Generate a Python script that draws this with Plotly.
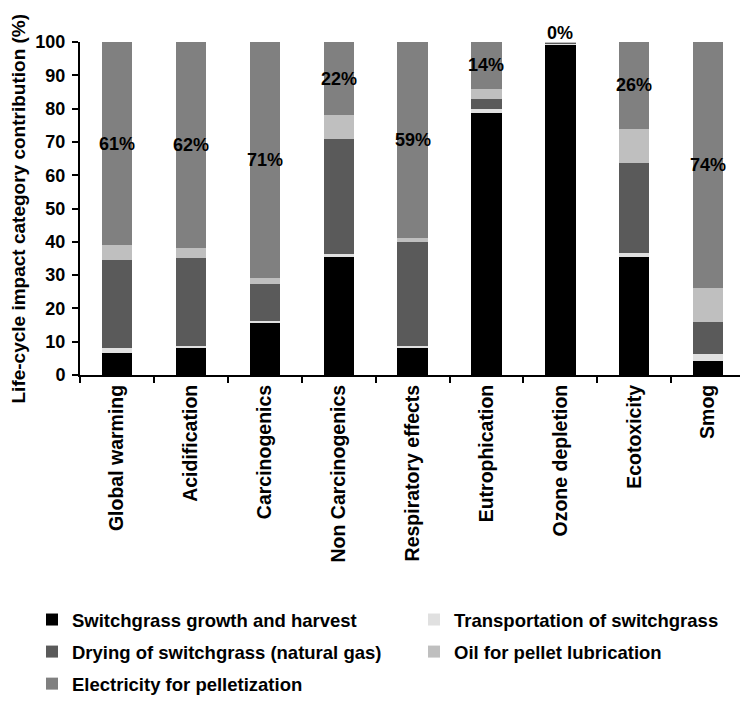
import plotly.graph_objects as go

# Impact categories (x axis)
categories = [
    "Global warming", "Acidification", "Carcinogenics", "Non Carcinogenics",
    "Respiratory effects", "Eutrophication", "Ozone depletion", "Ecotoxicity", "Smog",
]

# Contribution of each life-cycle stage (% of category total)
growth_harvest = [6.6, 8.0, 15.5, 35.5, 8.0, 78.8, 99.3, 35.5, 4.2]
transportation = [1.5, 0.8, 0.6, 0.7, 0.7, 1.0, 0.2, 1.2, 2.1]
drying_gas = [26.4, 26.2, 11.1, 34.6, 31.3, 3.0, 0.3, 26.9, 9.5]
oil_lubrication = [4.5, 3.0, 1.8, 7.2, 1.0, 3.2, 0.2, 10.4, 10.2]
electricity = [61, 62, 71, 22, 59, 14, 0, 26, 74]

series = [
    ("Switchgrass growth and harvest", growth_harvest, "#000000", "legend"),
    ("Transportation of switchgrass", transportation, "#e0e0e0", "legend2"),
    ("Drying of switchgrass (natural gas)", drying_gas, "#5a5a5a", "legend"),
    ("Oil for pellet lubrication", oil_lubrication, "#bfbfbf", "legend2"),
    ("Electricity for pelletization", electricity, "#808080", "legend"),
]

FONT = "Liberation Sans, Arial, sans-serif"

fig = go.Figure()
for name, vals, color, leg in series:
    fig.add_trace(go.Bar(
        x=categories, y=vals, name=f"<b>{name}</b>", legend=leg, legendgroup=name,
        marker=dict(color=color, line=dict(width=0)),
        width=0.41,
    ))

# Electricity share printed in the middle of its segment
for cat, e in zip(categories, electricity):
    if e > 0:
        fig.add_annotation(x=cat, y=100 - e / 2, text=f"<b>{e}%</b>",
                           showarrow=False, font=dict(size=18, color="black", family=FONT))
    else:
        fig.add_annotation(x=cat, y=100, text=f"<b>{e}%</b>", yanchor="bottom",
                           showarrow=False, yshift=-3,
                           font=dict(size=18, color="black", family=FONT))

# Y-axis title
fig.add_annotation(
    xref="paper", x=(18 - 80) / 660, xanchor="center",
    yref="paper", y=0.5, yanchor="middle",
    text="<b>Life-cycle impact category contribution (%)</b>",
    textangle=-90, showarrow=False, font=dict(size=19, color="black", family=FONT),
)

leg_common = dict(
    xref="container", xanchor="left", yref="container", yanchor="top",
    y=1 - 601 / 710, traceorder="grouped", tracegroupgap=5, itemwidth=30,
    font=dict(size=18.5, family=FONT), bgcolor="rgba(0,0,0,0)",
)

fig.update_layout(
    width=740, height=710,
    margin=dict(l=80, r=0, t=42, b=335, autoexpand=False),
    paper_bgcolor="white", plot_bgcolor="white",
    barmode="stack",
    font=dict(family=FONT, size=16, color="black"),
    xaxis=dict(
        range=[-0.5, -0.5 + 660 / 73.9], showline=True, linecolor="black", linewidth=2,
        ticks="outside", tickson="boundaries", ticklen=6, tickwidth=2, tickcolor="black",
        tickangle=-90, tickfont=dict(size=19.5, family=FONT),
        tickvals=categories, ticktext=[f"<b>{c}</b>" for c in categories],
        showgrid=False, zeroline=False,
    ),
    yaxis=dict(
        range=[0, 100], tickvals=list(range(0, 101, 10)),
        ticktext=[f"<b>{v}</b>" for v in range(0, 101, 10)],
        showline=True, linecolor="black", linewidth=2,
        ticks="outside", ticklen=6, tickwidth=2, tickcolor="black",
        tickfont=dict(size=18, family=FONT), ticklabelstandoff=3,
        showgrid=False, zeroline=False,
    ),
    legend=dict(x=32 / 740, **leg_common),
    legend2=dict(x=414 / 740, **leg_common),
)

fig.write_html("out.html")
